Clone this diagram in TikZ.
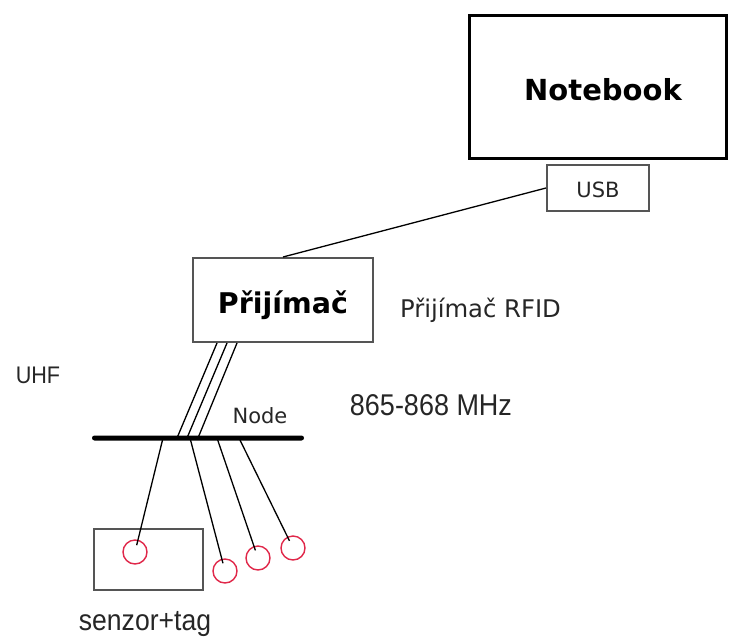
\documentclass[tikz,border=0pt]{standalone}
\usepackage{fontspec}
\setmainfont{DejaVu Sans}
\newfontfamily\arialf[FakeStretch=0.9]{Liberation Sans}
\usetikzlibrary{calc}
\definecolor{boxgray}{HTML}{555555}
\definecolor{tagred}{HTML}{E0284A}
\definecolor{txt}{HTML}{262626}
\tikzset{
  unitbox/.style={draw=boxgray, line width=2pt, fill=white, inner sep=0pt},
  wire/.style={draw=black, line width=1.3pt},
  tag/.style={circle, draw=tagred, line width=1.4pt, minimum size=24pt, inner sep=0pt},
  lbl/.style={text=txt, inner sep=0pt, anchor=base},
}
\begin{document}
\begin{tikzpicture}[x=1pt, y=-1pt]
  \useasboundingbox (0,0) rectangle (730,640);

  % devices
  \node[draw=black, line width=3pt, minimum width=257pt, minimum height=143pt,
        inner sep=0pt, text height=26pt, text depth=0pt,
        font=\fontsize{29}{32}\selectfont\bfseries]
        (nb) at (598,87) {\hspace*{10pt}Notebook};
  \node[unitbox, minimum width=102pt, minimum height=46pt, text height=18pt, text depth=0pt,
        font=\fontsize{21}{24}\selectfont, text=txt] (usb) at (598,188) {USB};
  \node[unitbox, minimum width=180pt, minimum height=84pt, text height=26pt, text depth=0pt,
        font=\fontsize{28.5}{32}\selectfont\bfseries] (prij) at (283,300) {Přijímač};
  \node[unitbox, minimum width=109pt, minimum height=61pt] (sens) at (148.5,559.5) {};

  % bus bar
  \node[fill=black, rounded corners=2.5pt, minimum width=212pt, minimum height=5pt,
        inner sep=0pt] (bar) at (198,438) {};

  % tags
  \node[tag] (t1) at (135,552) {};
  \node[tag] (t2) at (225,571) {};
  \node[tag] (t3) at (258,558) {};
  \node[tag] (t4) at (293,548) {};

  % USB cable
  \draw[wire] (usb.west) -- (prij.north);

  % antenna feed lines
  \draw[wire] ([xshift=-66pt]prij.south) -- ([xshift=-21pt]bar.center);
  \draw[wire] ([xshift=-56pt]prij.south) -- ([xshift=-11pt]bar.center);
  \draw[wire] ([xshift=-46pt]prij.south) -- (bar.center);

  % drops to the tags
  \coordinate (d1) at ([xshift=-35pt]bar.center);
  \coordinate (d2) at ([xshift=-8pt]bar.center);
  \coordinate (d3) at ([xshift=19pt]bar.center);
  \coordinate (d4) at ([xshift=41pt]bar.center);
  \draw[wire] (d1) -- ($(t1.center)!7pt!(d1)$);
  \draw[wire] (d2) -- ($(t2.center)!8pt!(d2)$);
  \draw[wire] (d3) -- ($(t3.center)!8pt!(d3)$);
  \draw[wire] (d4) -- ($(t4.center)!8pt!(d4)$);

  % labels (placed on their baselines)
  \node[lbl, font=\fontsize{24.3}{28}\selectfont] (rfid) at (480.5,317) {Přijímač RFID};
  \node[lbl, font=\fontsize{21}{24}\selectfont] (nodelbl) at (260,423) {Node};
  \node[lbl, font=\arialf\fontsize{24}{28}\selectfont] (uhf) at (38,383) {UHF};
  \node[lbl, font=\arialf\fontsize{30}{34}\selectfont] (freq) at (431,415) {865-868 MHz};
  \node[lbl, font=\arialf\fontsize{29.5}{34}\selectfont] (senslbl) at (145,630) {senzor+tag};
\end{tikzpicture}
\end{document}
